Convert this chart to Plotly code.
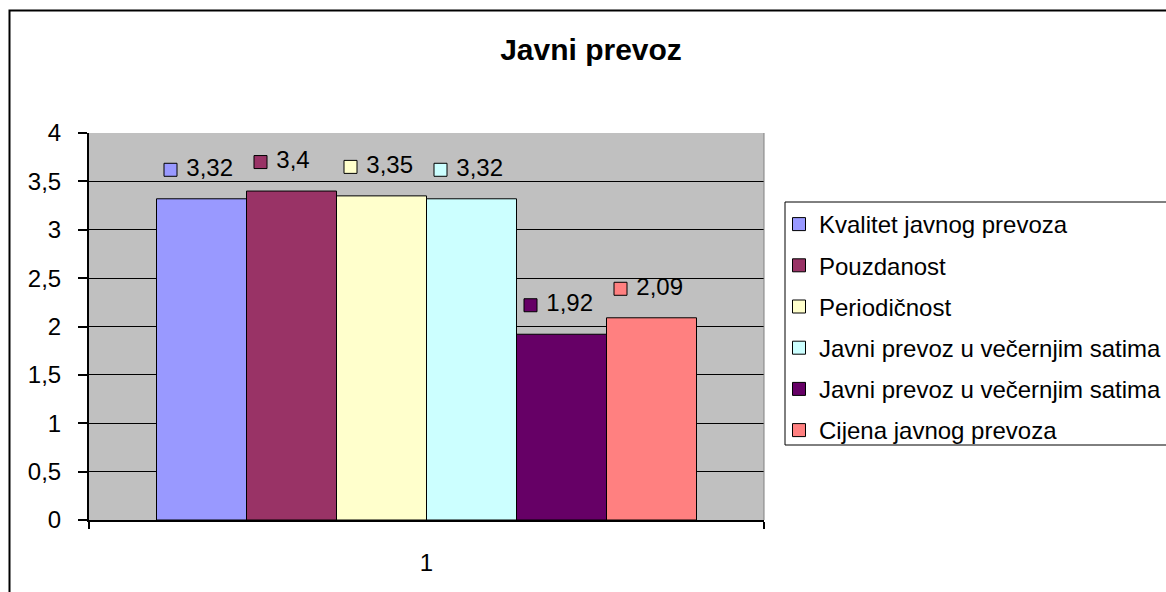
import plotly.graph_objects as go

title = "Javni prevoz"
series_names = [
    "Kvalitet javnog prevoza",
    "Pouzdanost",
    "Periodičnost",
    "Javni prevoz u večernjim satima",
    "Javni prevoz u večernjim satima",
    "Cijena javnog prevoza",
]
values = [3.32, 3.4, 3.35, 3.32, 1.92, 2.09]
value_labels = ["3,32", "3,4", "3,35", "3,32", "1,92", "2,09"]
colors = ["#9999FF", "#993366", "#FFFFCC", "#CCFFFF", "#660066", "#FF8080"]
category = [1]
y_tickvals = [0, 0.5, 1, 1.5, 2, 2.5, 3, 3.5, 4]
y_ticktext = ["0", "0,5", "1", "1,5", "2", "2,5", "3", "3,5", "4"]

FONT = "Liberation Sans, Arial, sans-serif"

# plot area in pixels
W, H = 1166, 592
L, R, T, B = 89, 764, 133, 520
pw, ph = R - L, B - T

def px_x(p):
    return (p - L) / pw

def px_y(p):
    return (B - p) / ph

n = len(values)
group_w = 0.8
bw = group_w / n

fig = go.Figure()
for i, (nm, v, c) in enumerate(zip(series_names, values, colors)):
    fig.add_trace(go.Bar(
        x=category, y=[v], name=nm, marker=dict(color=c, line=dict(color="black", width=1)),
        showlegend=False, width=bw,
    ))

# data labels with legend keys
for i, (nm, v, c, lab) in enumerate(zip(series_names, values, colors, value_labels)):
    cx = category[0] - group_w / 2 + (i + 0.5) * bw
    kx = cx - 31 / pw
    ky = v + 29 / ph * 4
    fig.add_trace(go.Scatter(
        x=[kx], y=[ky], mode="markers+text", text=[" " + lab], textposition="middle right",
        textfont=dict(size=24, color="black", family=FONT),
        marker=dict(symbol="square", size=13, color=c, line=dict(color="black", width=1)),
        showlegend=False, hoverinfo="skip", cliponaxis=False,
    ))

# legend entries
for i, (nm, c) in enumerate(zip(series_names, colors)):
    fig.add_trace(go.Scatter(
        x=[None], y=[None], mode="markers", name=nm, legendgroup=f"g{i}",
        marker=dict(symbol="square", size=13, color=c, line=dict(color="black", width=1)),
        showlegend=True,
    ))

shapes = [
    # plot-area right border
    dict(type="line", xref="paper", yref="paper", x0=1, x1=1, y0=0, y1=1,
         line=dict(color="#808080", width=1)),
    # legend box
    dict(type="rect", xref="paper", yref="paper", x0=px_x(785), x1=px_x(1180),
         y0=px_y(445), y1=px_y(202), line=dict(color="black", width=1)),
    # outer chart border
    dict(type="rect", xref="paper", yref="paper", x0=px_x(9.5), x1=px_x(1180),
         y0=px_y(610), y1=px_y(10.5), line=dict(color="black", width=2)),
]

fig.update_layout(
    width=W, height=H,
    margin=dict(l=L, r=W - R, t=T, b=H - B, pad=0, autoexpand=False),
    paper_bgcolor="white", plot_bgcolor="#C0C0C0",
    font=dict(family=FONT, size=24, color="black"),
    title=dict(text=f"<b>{title}</b>", x=591 / W, xref="container", xanchor="center",
               y=1 - 49 / H, yref="container", yanchor="middle",
               font=dict(size=30, family=FONT, color="black")),
    barmode="group", bargap=0.2,
    showlegend=True,
    legend=dict(x=779 / W, xref="container", xanchor="left",
                y=1 - 202 / H, yref="container", yanchor="top",
                font=dict(size=24, family=FONT, color="black"),
                bgcolor="rgba(0,0,0,0)", borderwidth=0, tracegroupgap=7,
                traceorder="grouped"),
    xaxis=dict(range=[0.5, 1.5], tickvals=category, ticktext=[str(c) for c in category],
               ticks="", showgrid=False, zeroline=False, showline=True,
               linecolor="black", linewidth=2, ticklabelstandoff=20,
               minor=dict(tick0=0.5, dtick=1, ticks="outside", ticklen=7,
                          tickcolor="black", tickwidth=2, showgrid=False)),
    yaxis=dict(range=[0, 4], tickvals=y_tickvals, ticktext=y_ticktext,
               ticks="outside", ticklen=9, tickcolor="black", tickwidth=1.5,
               showgrid=True, gridcolor="black", gridwidth=1, zeroline=False,
               showline=True, linecolor="black", linewidth=2, ticklabelstandoff=12),
    shapes=shapes,
)

fig.write_html(
    "out.html",
    config={"displayModeBar": False},
    post_script="document.body.style.margin='0';document.body.style.overflow='hidden';",
)
